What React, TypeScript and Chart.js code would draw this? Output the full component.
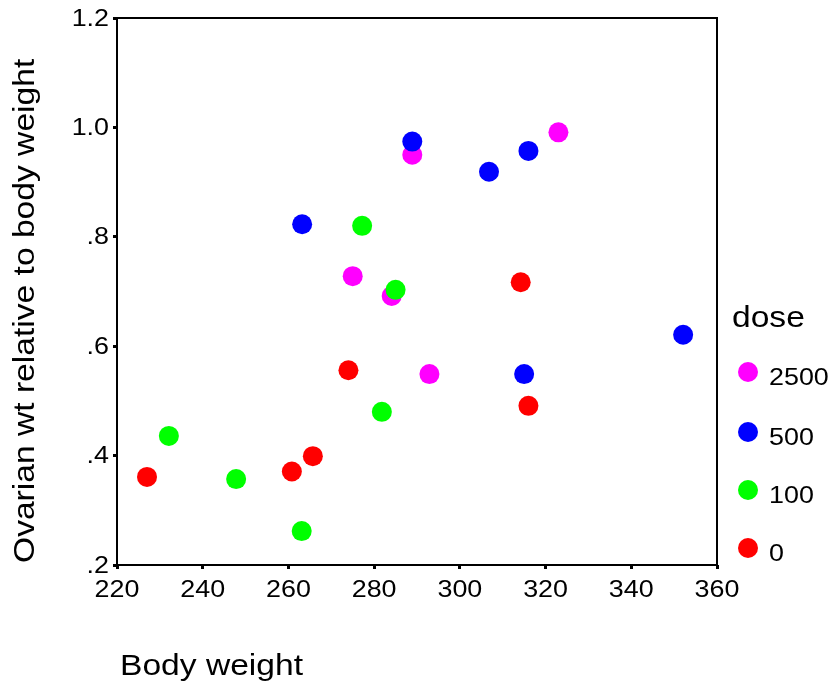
import React, { useEffect, useRef } from "react";
import { Chart, registerables } from "chart.js";

Chart.register(...registerables);

// ---- Data ----
const doseLabels = ["2500", "500", "100", "0"];
const doseColors = ["#ff00ff", "#0000ff", "#00ff00", "#ff0000"];

const bw2500 = [275.0, 288.9, 323.0, 284.1, 292.9];
const ov2500 = [0.728, 0.95, 0.991, 0.692, 0.549];

const bw500 = [263.2, 288.9, 306.8, 316.0, 352.1, 315.0];
const ov500 = [0.823, 0.974, 0.919, 0.957, 0.621, 0.549];

const bw100 = [277.2, 285.0, 281.8, 232.1, 247.8, 263.1];
const ov100 = [0.82, 0.703, 0.48, 0.436, 0.357, 0.262];

const bw0 = [314.2, 316.0, 274.0, 227.0, 260.8, 265.7];
const ov0 = [0.717, 0.491, 0.556, 0.361, 0.371, 0.399];

const xTickValues = [220, 240, 260, 280, 300, 320, 340, 360];
const xTickLabels = ["220", "240", "260", "280", "300", "320", "340", "360"];
const yTickValues = [0.2, 0.4, 0.6, 0.8, 1.0, 1.2];
const yTickLabels = [".2", ".4", ".6", ".8", "1.0", "1.2"];

const xTitle = "Body weight";
const yTitle = "Ovarian wt relative to body weight";
const legendTitle = "dose";

const FONT = '"Liberation Sans", Arial, sans-serif';
const STRETCH = 1.12;

function zip(xs: number[], ys: number[]) {
  return xs.map((x, i) => ({ x, y: ys[i] }));
}

const groups = [
  { xs: bw2500, ys: ov2500 },
  { xs: bw500, ys: ov500 },
  { xs: bw100, ys: ov100 },
  { xs: bw0, ys: ov0 },
];

function stretchedText(
  ctx: CanvasRenderingContext2D,
  text: string,
  x: number,
  y: number,
  size: number,
  align: CanvasTextAlign,
  baseline: CanvasTextBaseline,
  rotate = 0
) {
  ctx.save();
  ctx.translate(x, y);
  if (rotate) ctx.rotate(rotate);
  ctx.scale(STRETCH, 1);
  ctx.font = `${size}px ${FONT}`;
  ctx.fillStyle = "#000";
  ctx.textAlign = align;
  ctx.textBaseline = baseline;
  ctx.fillText(text, 0, 0);
  ctx.restore();
}

const decorPlugin = {
  id: "decor",
  afterDraw(chart: any) {
    const ctx: CanvasRenderingContext2D = chart.ctx;
    const { left, right, top, bottom } = chart.chartArea;
    const xs = chart.scales.x;
    const ys = chart.scales.y;

    // box
    ctx.save();
    ctx.strokeStyle = "#000";
    ctx.lineWidth = 2;
    ctx.strokeRect(left, top, right - left, bottom - top);
    ctx.restore();

    // x tick labels
    xTickValues.forEach((v, i) => {
      stretchedText(ctx, xTickLabels[i], xs.getPixelForValue(v), bottom + 25, 24, "center", "middle");
    });
    // y tick labels
    yTickValues.forEach((v, i) => {
      stretchedText(ctx, yTickLabels[i], left - 8, ys.getPixelForValue(v) + 1, 24, "right", "middle");
    });

    // titles
    stretchedText(ctx, xTitle, 120, 675, 30, "left", "alphabetic");
    stretchedText(ctx, yTitle, 34, 563, 30, "left", "alphabetic", -Math.PI / 2);

    // legend
    stretchedText(ctx, legendTitle, 732, 327, 30, "left", "alphabetic");
    const legendY = [372, 432, 490, 548];
    doseLabels.forEach((lab, i) => {
      ctx.save();
      ctx.beginPath();
      ctx.arc(748, legendY[i], 10, 0, Math.PI * 2);
      ctx.fillStyle = doseColors[i];
      ctx.fill();
      ctx.restore();
      stretchedText(ctx, lab, 769, legendY[i] + 6, 24, "left", "middle");
    });
  },
};

export default function App() {
  const ref = useRef<HTMLCanvasElement | null>(null);

  useEffect(() => {
    if (!ref.current) return;
    const chart = new Chart(ref.current, {
      type: "scatter",
      data: {
        datasets: groups.map((g, i) => ({
          label: doseLabels[i],
          data: zip(g.xs, g.ys),
          backgroundColor: doseColors[i],
          borderWidth: 0,
          pointRadius: 10,
          pointHoverRadius: 10,
          order: 4 - i,
        })),
      },
      options: {
        responsive: false,
        animation: false,
        events: [],
        layout: { padding: { top: 18, right: 115, left: 0, bottom: 0 } },
        plugins: {
          legend: { display: false },
          tooltip: { enabled: false },
        },
        scales: {
          x: {
            type: "linear",
            min: 220,
            max: 360,
            afterBuildTicks: (scale: any) => {
              scale.ticks = xTickValues.map((v) => ({ value: v }));
            },
            ticks: { display: false },
            grid: {
              drawOnChartArea: false,
              drawTicks: true,
              tickLength: 4,
              tickWidth: 3,
              tickColor: "#000",
            },
            border: { display: false },
            afterFit: (scale: any) => {
              scale.height = 118;
            },
          },
          y: {
            type: "linear",
            min: 0.2,
            max: 1.2,
            afterBuildTicks: (scale: any) => {
              scale.ticks = yTickValues.map((v) => ({ value: v }));
            },
            ticks: { display: false },
            grid: {
              drawOnChartArea: false,
              drawTicks: true,
              tickLength: 4,
              tickWidth: 3,
              tickColor: "#000",
            },
            border: { display: false },
            afterFit: (scale: any) => {
              scale.width = 117;
            },
          },
        },
      },
      plugins: [decorPlugin],
    });
    return () => chart.destroy();
  }, []);

  return (
    <div style={{ position: "fixed", left: 0, top: 0, width: 832, height: 683, background: "#fff" }}>
      <canvas ref={ref} width={832} height={683} style={{ width: 832, height: 683 }} />
    </div>
  );
}
